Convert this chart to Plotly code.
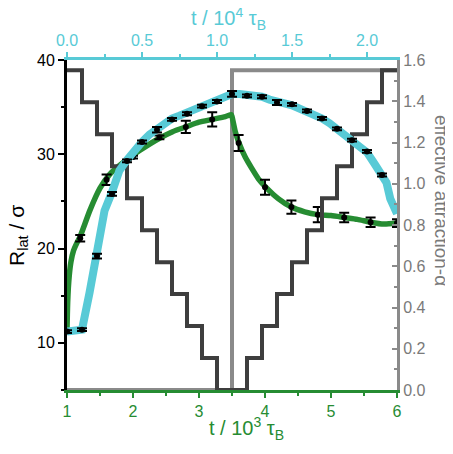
import plotly.graph_objects as go

# ---------------- data ----------------
# cyan curve (top axis, t / 1e4 tau_B ; left axis R_lat / sigma)
cyan_t = [0.00, 0.05, 0.10, 0.15, 0.20, 0.25, 0.30, 0.35, 0.40, 0.45, 0.50, 0.55, 0.60,
          0.65, 0.70, 0.75, 0.80, 0.85, 0.90, 0.95, 1.00, 1.05, 1.10, 1.15, 1.20, 1.25,
          1.30, 1.35, 1.40, 1.45, 1.50, 1.55, 1.60, 1.65, 1.70, 1.75, 1.80, 1.85, 1.90,
          1.95, 2.00, 2.05, 2.10, 2.13, 2.155, 2.19, 2.20]
cyan_R = [11.2, 11.3, 11.4, 15.3, 19.2, 24.0, 26.0, 28.3, 29.4, 30.5, 31.3, 32.1, 32.7,
          33.3, 33.8, 34.1, 34.4, 34.8, 35.2, 35.4, 35.7, 36.1, 36.4, 36.4, 36.3, 36.3,
          36.1, 35.8, 35.5, 35.4, 35.2, 34.9, 34.6, 34.2, 33.8, 33.3, 32.7, 32.1, 31.5,
          30.9, 30.2, 29.0, 27.8, 27.0, 25.3, 23.9, 23.7]
cyan_pt_t = [0.0, 0.1, 0.2, 0.3, 0.4, 0.5, 0.6, 0.7, 0.8, 0.9, 1.0, 1.1, 1.2, 1.3, 1.4,
             1.5, 1.6, 1.7, 1.8, 1.9, 2.0, 2.1]
cyan_pt_R = [11.2, 11.4, 19.2, 25.8, 29.3, 31.3, 32.6, 33.7, 34.3, 35.1, 35.6, 36.4, 36.2,
             36.1, 35.5, 35.3, 34.6, 33.8, 32.7, 31.5, 30.3, 27.8]
cyan_pt_err = [0.15, 0.15, 0.25, 0.2, 0.15, 0.15, 0.3, 0.15, 0.15, 0.15, 0.15, 0.3, 0.15,
               0.15, 0.27, 0.15, 0.15, 0.15, 0.15, 0.15, 0.15, 0.15]

# green curve (bottom axis, t / 1e3 tau_B ; left axis R_lat / sigma)
green_t = [1.00, 1.005, 1.01, 1.02, 1.035, 1.06, 1.10, 1.15, 1.2, 1.35, 1.5, 1.65, 1.9,
           2.1, 2.4, 2.6, 2.8, 3.0, 3.2, 3.4, 3.49, 3.5, 3.55, 3.6, 3.7, 3.8, 3.9, 4.0,
           4.2, 4.4, 4.6, 4.8, 5.0, 5.2, 5.4, 5.6, 5.8, 6.0]
green_R = [11.3, 13.0, 14.3, 15.8, 17.2, 18.6, 19.8, 20.6, 21.3, 24.1, 26.4, 27.9, 29.4,
           30.4, 31.7, 32.4, 32.9, 33.4, 33.7, 34.0, 34.2, 34.0, 32.4, 31.3, 29.7, 28.5,
           27.4, 26.6, 25.3, 24.4, 23.9, 23.6, 23.5, 23.3, 23.1, 22.8, 22.6, 22.7]
green_pt_t = [1.2, 1.6, 2.0, 2.4, 2.8, 3.2, 3.6, 4.0, 4.4, 4.8, 5.2, 5.6, 6.0]
green_pt_R = [21.1, 27.3, 29.7, 31.8, 32.9, 33.7, 31.2, 26.5, 24.4, 23.6, 23.3, 22.8, 22.7]
green_pt_err = [0.35, 0.55, 0.15, 0.2, 0.65, 0.75, 0.85, 0.8, 0.7, 0.8, 0.5, 0.5, 0.4]

# protocol for the green run (bottom axis) : effective attraction alpha
gray_t = [1.0, 3.5, 3.5, 6.0]
gray_a = [0.0, 0.0, 1.55, 1.55]

# stepwise protocol for the cyan run (top axis)
dark_t = [0.0, 0.1, 0.2, 0.3, 0.4, 0.5, 0.6, 0.7, 0.8, 0.9, 1.0, 1.2, 1.3, 1.4, 1.5,
          1.6, 1.7, 1.8, 1.9, 2.0, 2.1, 2.2]
dark_a = [1.55, 1.395, 1.24, 1.085, 0.93, 0.775, 0.62, 0.465, 0.31, 0.155, 0.0, 0.155,
          0.31, 0.465, 0.62, 0.775, 0.93, 1.085, 1.24, 1.395, 1.55, 1.55]

# ---------------- style ----------------
CYAN = "#58CAD6"
GREEN = "#268C32"
DARK = "#3E3E3E"
GRAY = "#8A8A8A"
LABELGRAY = "#7A7A7A"
FONT = "Liberation Sans, Arial, sans-serif"

fig = go.Figure()

# attraction protocols on the base (right) axis -> drawn first (underneath)
fig.add_trace(go.Scatter(x=gray_t, y=gray_a, xaxis="x", yaxis="y", mode="lines",
                         line=dict(color=GRAY, width=4), showlegend=False))
fig.add_trace(go.Scatter(x=dark_t, y=dark_a, xaxis="x2", yaxis="y", mode="lines",
                         line=dict(color=DARK, width=4, shape="hv"), showlegend=False))
# curves on the overlaying (left) axis
fig.add_trace(go.Scatter(x=green_t, y=green_R, xaxis="x", yaxis="y2", mode="lines",
                         line=dict(color=GREEN, width=5.5, shape="spline", smoothing=0.6),
                         showlegend=False))
fig.add_trace(go.Scatter(x=green_pt_t, y=green_pt_R, xaxis="x", yaxis="y2", mode="markers",
                         marker=dict(size=0, color="black"),
                         error_y=dict(type="data", array=green_pt_err, color="black",
                                      thickness=2, width=5),
                         showlegend=False))
fig.add_trace(go.Scatter(x=cyan_t, y=cyan_R, xaxis="x2", yaxis="y2", mode="lines",
                         line=dict(color=CYAN, width=8), showlegend=False))
fig.add_trace(go.Scatter(x=cyan_pt_t, y=cyan_pt_R, xaxis="x2", yaxis="y2", mode="markers",
                         marker=dict(size=0, color="black"),
                         error_y=dict(type="data", array=cyan_pt_err, color="black",
                                      thickness=2, width=5),
                         showlegend=False))

tickfont = dict(family=FONT, size=16)

fig.update_layout(
    width=445, height=446,
    margin=dict(l=59, r=56, t=52, b=64),
    paper_bgcolor="white", plot_bgcolor="white",
    font=dict(family=FONT, size=16),
    xaxis=dict(range=[1, 6], dtick=1, tick0=1, ticks="outside", ticklen=5, tickwidth=2,
               tickcolor=GREEN, linecolor=GREEN, linewidth=3, showline=True,
               showgrid=False, zeroline=False, tickfont=dict(tickfont, color=GREEN),
               minor=dict(dtick=0.5, ticks="outside", ticklen=3, tickwidth=2,
                          tickcolor=GREEN, showgrid=False)),
    xaxis2=dict(range=[0, 2.2], dtick=0.5, tick0=0, tickformat=".1f", overlaying="x",
                side="top", ticks="outside", ticklen=5, tickwidth=2, tickcolor=CYAN,
                linecolor=CYAN, linewidth=3, showline=True, showgrid=False,
                zeroline=False, tickfont=dict(tickfont, color=CYAN),
                minor=dict(dtick=0.25, ticks="outside", ticklen=3, tickwidth=2,
                           tickcolor=CYAN, showgrid=False)),
    yaxis=dict(range=[0, 1.6], dtick=0.2, tick0=0, tickformat=".1f", side="right",
               ticks="inside", ticklen=5, tickwidth=2, tickcolor=GRAY,
               linecolor=GRAY, linewidth=3, showline=True, showgrid=False,
               zeroline=False, tickfont=dict(tickfont, color=LABELGRAY),
               minor=dict(dtick=0.1, ticks="inside", ticklen=3, tickwidth=2,
                          tickcolor=GRAY, showgrid=False)),
    yaxis2=dict(range=[5, 40], tickvals=[10, 20, 30, 40], side="left", overlaying="y",
                ticks="outside", ticklen=6, tickwidth=2, tickcolor="black",
                linecolor="black", linewidth=3, showline=True, showgrid=False,
                zeroline=False, tickfont=dict(tickfont, color="black"),
                minor=dict(tickvals=[5, 15, 25, 35], ticks="outside", ticklen=3,
                           tickwidth=2, tickcolor="black", showgrid=False)),
    annotations=[
        dict(text="R<sub>lat</sub> / σ", xref="paper", yref="paper",
             x=(18 - 67) / 330, y=(390 - 235) / 330, textangle=-90, showarrow=False,
             xanchor="center", yanchor="middle", font=dict(family=FONT, size=21, color="black")),
        dict(text="effective attraction-α", xref="paper", yref="paper",
             x=(441 - 67) / 330, y=(390 - 200) / 330, textangle=90, showarrow=False,
             xanchor="center", yanchor="middle", font=dict(family=FONT, size=19, color=LABELGRAY)),
        dict(text="t / 10<sup>4</sup> τ<sub>B</sub>", xref="paper", yref="paper",
             x=(228 - 67) / 330, y=(390 - 18) / 330, showarrow=False,
             xanchor="center", yanchor="middle", font=dict(family=FONT, size=20, color=CYAN)),
        dict(text="t / 10<sup>3</sup> τ<sub>B</sub>", xref="paper", yref="paper",
             x=(246 - 67) / 330, y=(390 - 428) / 330, showarrow=False,
             xanchor="center", yanchor="middle", font=dict(family=FONT, size=20, color=GREEN)),
    ],
)

fig.write_html("out.html")
